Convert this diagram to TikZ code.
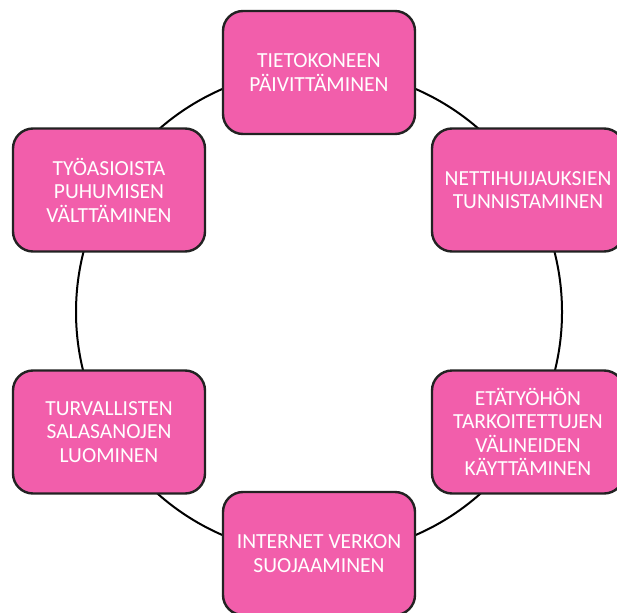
\documentclass[tikz,border=0pt]{standalone}
\usepackage{fontspec}
\setmainfont{Carlito}
\definecolor{boxpink}{HTML}{F25EAB}
\definecolor{boxedge}{HTML}{222222}
\begin{document}
\begin{tikzpicture}[x=1pt,y=-1pt,
  topic/.style={draw=boxedge, line width=2.4pt, fill=boxpink, rounded corners=20pt,
    minimum width=192pt, minimum height=123pt, align=center, text=white,
    font=\fontsize{21.5}{23.5}\selectfont, inner sep=2pt},
  ring/.style={draw=black, line width=2pt}]
\useasboundingbox (0,0) rectangle (617,612);
\coordinate (c) at (319,312);
\draw[ring] (c) circle (243);
\node[topic] (top) at (319,72.5) {TIETOKONEEN\\PÄIVITTÄMINEN};
\node[topic] (ru) at (528,190) {NETTIHUIJAUKSIEN\\TUNNISTAMINEN};
\node[topic] (rl) at (528,432) {ETÄTYÖHÖN\\TARKOITETTUJEN\\VÄLINEIDEN\\KÄYTTÄMINEN};
\node[topic] (bot) at (319,553.5) {INTERNET VERKON\\SUOJAAMINEN};
\node[topic] (ll) at (109,432) {TURVALLISTEN\\SALASANOJEN\\LUOMINEN};
\node[topic] (lu) at (109,190) {TYÖASIOISTA\\PUHUMISEN\\VÄLTTÄMINEN};
\end{tikzpicture}
\end{document}
